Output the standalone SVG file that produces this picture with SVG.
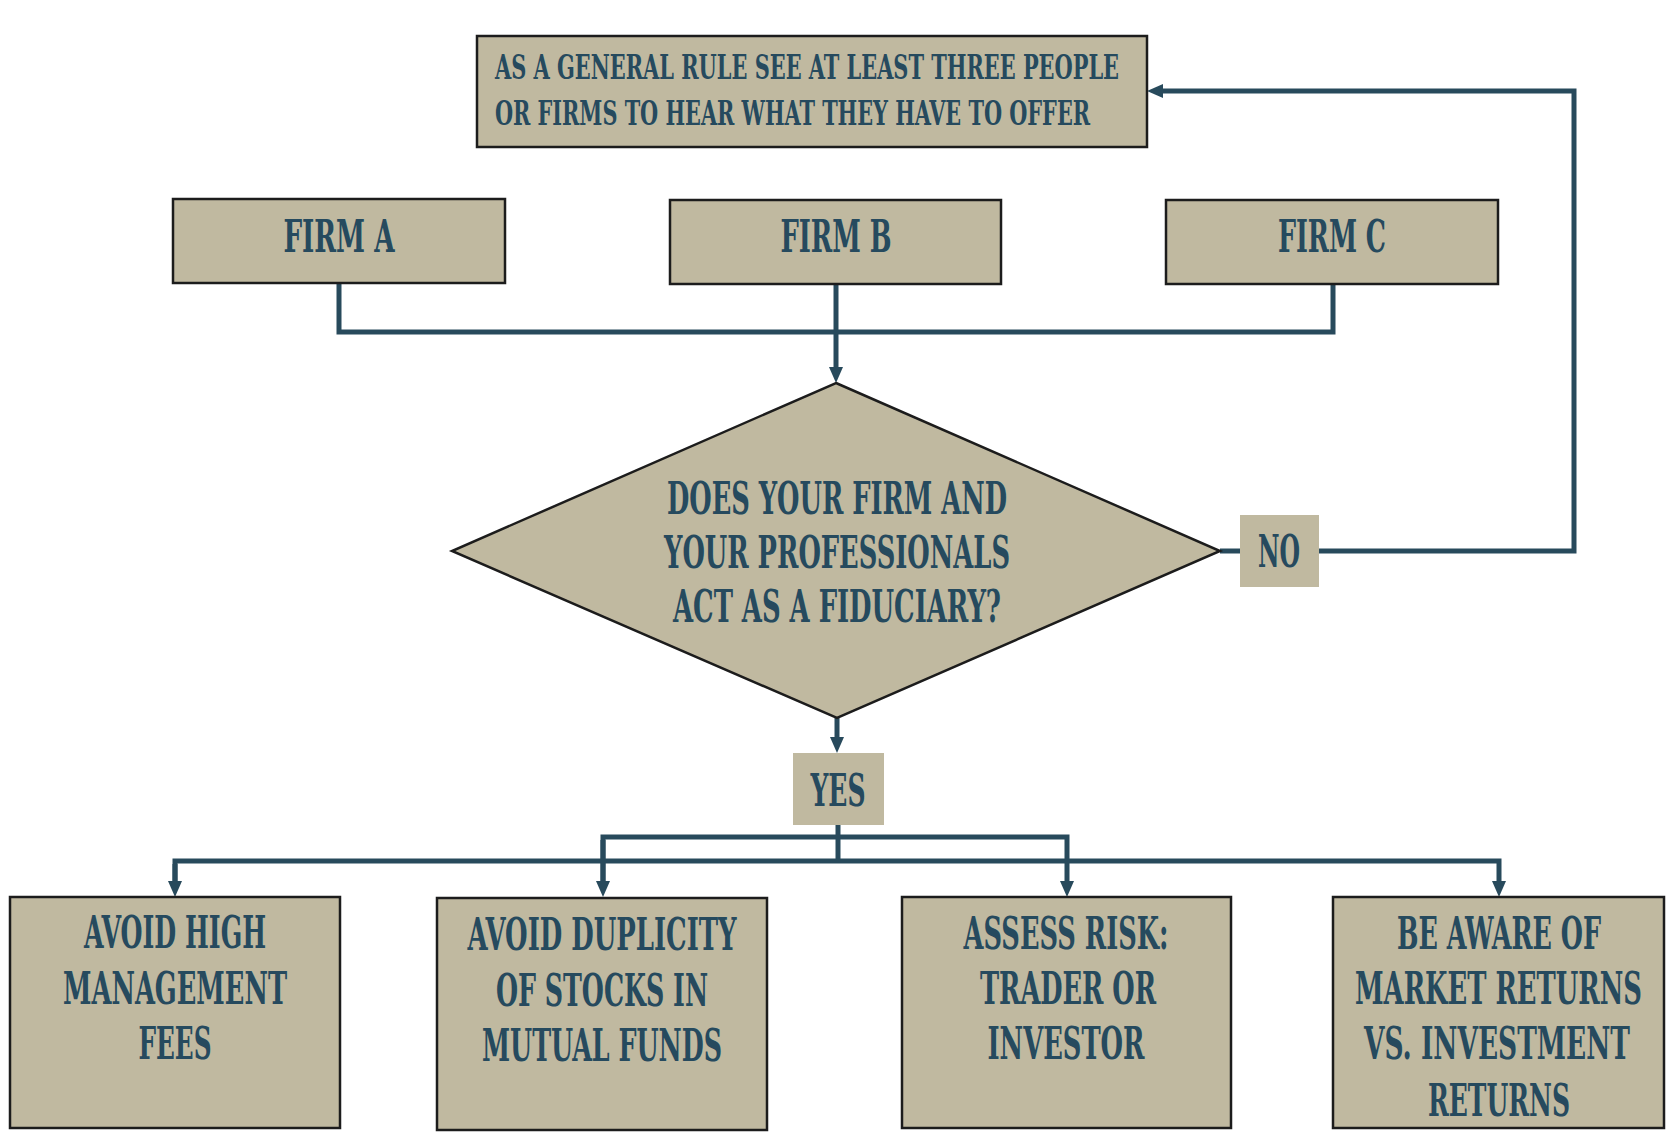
<svg xmlns="http://www.w3.org/2000/svg" width="1680" height="1140" viewBox="0 0 1680 1140">
<style>
.box{fill:#c0b9a0;stroke:#1c1c1c;stroke-width:2.5}
.lbl{fill:#c0b9a0;stroke:none}
.t{font-family:"DejaVu Serif Condensed","DejaVu Serif","Liberation Serif",serif;font-weight:bold;fill:#264a5e;text-anchor:middle;font-size:45px}
.te{text-anchor:end}
.ts{font-family:"DejaVu Serif Condensed","DejaVu Serif","Liberation Serif",serif;font-weight:bold;fill:#264a5e;font-size:34px}
.c{fill:none;stroke:#284a5c;stroke-width:5}
</style>
<defs>
<marker id="ah" markerUnits="userSpaceOnUse" markerWidth="16" markerHeight="16" viewBox="0 0 16 16" refX="8" refY="8" orient="auto">
<path d="M0,1 L16,8 L0,15 z" fill="#284a5c"/>
</marker>
</defs>
<rect width="1680" height="1140" fill="#ffffff"/>
<g id="connectors">
<path class="c" d="M339,284 V332 H1333 V284"/>
<path class="c" d="M836,284 V375" marker-end="url(#ah)"/>
<path class="c" d="M1220,551 H1240"/>
<path class="c" d="M1319,551 H1574 V91 H1155" marker-end="url(#ah)"/>
<path class="c" d="M837,718 V745" marker-end="url(#ah)"/>
<path class="c" d="M838,825 V861"/>
<path class="c" d="M603,889 V837 H1067 V889" marker-end="url(#ah)"/>
<path class="c" d="M603,840 V889" marker-end="url(#ah)"/>
<path class="c" d="M175,889 V861 H1499 V889" marker-end="url(#ah)"/>
<path class="c" d="M175,864 V889" marker-end="url(#ah)"/>
</g>
<g id="top">
<rect class="box" x="477" y="36" width="670" height="111"/>
<text class="ts" x="495" y="79" textLength="624" lengthAdjust="spacingAndGlyphs">AS A GENERAL RULE SEE AT LEAST THREE PEOPLE</text>
<text class="ts" x="495" y="125" textLength="595" lengthAdjust="spacingAndGlyphs">OR FIRMS TO HEAR WHAT THEY HAVE TO OFFER</text>
</g>
<g id="firmA">
<rect class="box" x="173" y="199" width="332" height="84"/>
<text class="t" x="339" y="252" textLength="111" lengthAdjust="spacingAndGlyphs">FIRM A</text>
</g>
<g id="firmB">
<rect class="box" x="670" y="200" width="331" height="84"/>
<text class="t" x="836" y="252" textLength="111" lengthAdjust="spacingAndGlyphs">FIRM B</text>
</g>
<g id="firmC">
<rect class="box" x="1166" y="200" width="332" height="84"/>
<text class="t" x="1332" y="252" textLength="108" lengthAdjust="spacingAndGlyphs">FIRM C</text>
</g>
<g id="decision">
<polygon class="box" points="836,383 1220,551 837,718 452,551"/>
<text class="t" x="837" y="514" textLength="340" lengthAdjust="spacingAndGlyphs">DOES YOUR FIRM AND</text>
<text class="t" x="837" y="568" textLength="346" lengthAdjust="spacingAndGlyphs">YOUR PROFESSIONALS</text>
<text class="t" x="837" y="622" textLength="328" lengthAdjust="spacingAndGlyphs">ACT AS A FIDUCIARY?</text>
</g>
<g id="no">
<rect class="lbl" x="1240" y="515" width="79" height="72"/>
<text class="t" x="1279" y="567" textLength="42" lengthAdjust="spacingAndGlyphs">NO</text>
</g>
<g id="yes">
<rect class="lbl" x="793" y="753" width="91" height="72"/>
<text class="t" x="838" y="806" textLength="55" lengthAdjust="spacingAndGlyphs">YES</text>
</g>
<g id="fees">
<rect class="box" x="10" y="897" width="330" height="231"/>
<text class="t" x="175" y="948" textLength="182" lengthAdjust="spacingAndGlyphs">AVOID HIGH</text>
<text class="t" x="175" y="1004" textLength="224" lengthAdjust="spacingAndGlyphs">MANAGEMENT</text>
<text class="t" x="175" y="1059" textLength="73" lengthAdjust="spacingAndGlyphs">FEES</text>
</g>
<g id="duplicity">
<rect class="box" x="437" y="898" width="330" height="232"/>
<text class="t" x="602" y="950" textLength="269" lengthAdjust="spacingAndGlyphs">AVOID DUPLICITY</text>
<text class="t" x="602" y="1006" textLength="212" lengthAdjust="spacingAndGlyphs">OF STOCKS IN</text>
<text class="t" x="602" y="1061" textLength="240" lengthAdjust="spacingAndGlyphs">MUTUAL FUNDS</text>
</g>
<g id="risk">
<rect class="box" x="902" y="897" width="329" height="231"/>
<text class="t" x="1066" y="949" textLength="205" lengthAdjust="spacingAndGlyphs">ASSESS RISK:</text>
<text class="t" x="1068" y="1004" textLength="176" lengthAdjust="spacingAndGlyphs">TRADER OR</text>
<text class="t" x="1066" y="1059" textLength="157" lengthAdjust="spacingAndGlyphs">INVESTOR</text>
</g>
<g id="returns">
<rect class="box" x="1333" y="897" width="331" height="231"/>
<text class="t te" x="1601" y="949" textLength="204" lengthAdjust="spacingAndGlyphs">BE AWARE OF</text>
<text class="t te" x="1642" y="1004" textLength="287" lengthAdjust="spacingAndGlyphs">MARKET RETURNS</text>
<text class="t te" x="1630" y="1059" textLength="266" lengthAdjust="spacingAndGlyphs">VS. INVESTMENT</text>
<text class="t te" x="1570" y="1116" textLength="142" lengthAdjust="spacingAndGlyphs">RETURNS</text>
</g>
</svg>
